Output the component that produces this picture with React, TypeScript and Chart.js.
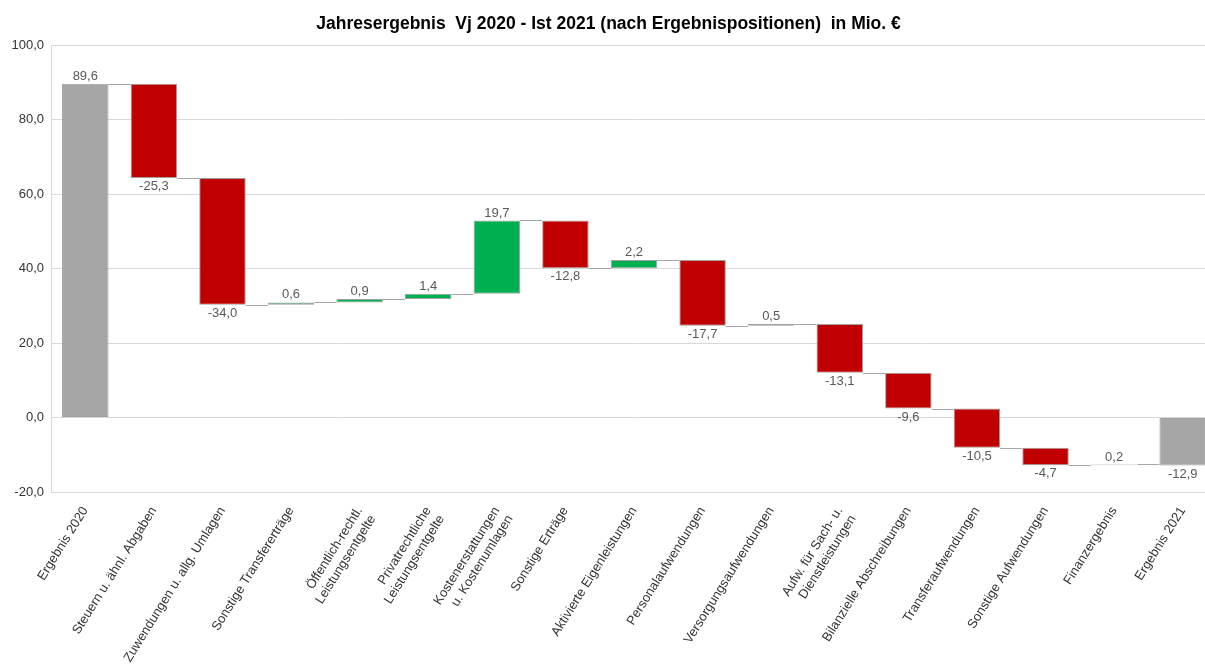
import React, { useEffect, useRef } from "react";
import { Chart, registerables } from "chart.js";

Chart.register(...registerables);

const FONT = "'Liberation Sans', Arial, Helvetica, sans-serif";

const categories: (string | string[])[] = [
  "Ergebnis 2020",
  "Steuern u. ähnl. Abgaben",
  "Zuwendungen u. allg. Umlagen",
  "Sonstige Transfererträge",
  ["Öffentlich-rechtl.", "Leistungsentgelte"],
  ["Privatrechtliche", "Leistungsentgelte"],
  ["Kostenerstattungen", "u. Kostenumlagen"],
  "Sonstige Erträge",
  "Aktivierte Eigenleistungen",
  "Personalaufwendungen",
  "Versorgungsaufwendungen",
  ["Aufw. für Sach- u.", "Dienstleistungen"],
  "Bilanzielle Abschreibungen",
  "Transferaufwendungen",
  "Sonstige Aufwendungen",
  "Finanzergebnis",
  "Ergebnis 2021",
];

const startValue = 89.6;
const deltas = [-25.3, -34.0, 0.6, 0.9, 1.4, 19.7, -12.8, 2.2, -17.7, 0.5, -13.1, -9.6, -10.5, -4.7, 0.2];
const endValue = -12.9;

const yMin = -20;
const yMax = 100;
const yStep = 20;

const TITLE = "Jahresergebnis  Vj 2020 - Ist 2021 (nach Ergebnispositionen)  in Mio. €";

const COLOR_TOTAL = "#a6a6a6";
const COLOR_NEG = "#c00000";
const COLOR_POS = "#00b050";

function fmt(v: number): string {
  return v.toFixed(1).replace(".", ",");
}

export default function App() {
  const ref = useRef<HTMLCanvasElement | null>(null);

  useEffect(() => {
    if (!ref.current) return;

    const ranges: [number, number][] = [];
    const levels: number[] = [];
    const values: number[] = [];
    const colors: string[] = [];

    ranges.push([0, startValue]);
    levels.push(startValue);
    values.push(startValue);
    colors.push(COLOR_TOTAL);
    let level = startValue;
    deltas.forEach((d) => {
      ranges.push([level, level + d]);
      level += d;
      levels.push(level);
      values.push(d);
      colors.push(d >= 0 ? COLOR_POS : COLOR_NEG);
    });
    ranges.push([0, endValue]);
    levels.push(endValue);
    values.push(endValue);
    colors.push(COLOR_TOTAL);

    const waterfallPlugin = {
      id: "waterfallExtras",
      afterDatasetsDraw(chart: any) {
        const ctx = chart.ctx;
        const meta = chart.getDatasetMeta(0);
        const yScale = chart.scales.y;
        ctx.save();
        // connectors
        ctx.strokeStyle = "#a6a6a6";
        ctx.lineWidth = 1;
        for (let i = 0; i < meta.data.length - 1; i++) {
          const a = meta.data[i] as any;
          const b = meta.data[i + 1] as any;
          const yy = Math.round(yScale.getPixelForValue(levels[i])) + 0.5;
          ctx.beginPath();
          ctx.moveTo(a.x + a.width / 2, yy);
          ctx.lineTo(b.x - b.width / 2, yy);
          ctx.stroke();
        }
        // value labels
        ctx.fillStyle = "#595959";
        ctx.font = `13px ${FONT}`;
        ctx.textAlign = "center";
        for (let i = 0; i < meta.data.length; i++) {
          const el = meta.data[i] as any;
          const top = Math.min(el.y, el.base);
          const bottom = Math.max(el.y, el.base);
          const v = values[i];
          if (v >= 0) {
            ctx.textBaseline = "bottom";
            ctx.fillText(fmt(v), el.x, top - 1);
          } else {
            ctx.textBaseline = "top";
            ctx.fillText(fmt(v), el.x, bottom + 2);
          }
        }
        ctx.restore();
      },
    };

    const chart = new Chart(ref.current, {
      type: "bar",
      data: {
        labels: categories,
        datasets: [
          {
            data: ranges as any,
            backgroundColor: colors,
            borderColor: "#a0a0a0",
            borderWidth: 1,
            borderSkipped: false,
            barPercentage: 0.678,
            categoryPercentage: 1,
          },
        ],
      },
      options: {
        responsive: false,
        animation: false,
        layout: { padding: 0 },
        plugins: {
          legend: { display: false },
          tooltip: { enabled: false },
          title: {
            display: true,
            text: TITLE,
            color: "#000000",
            font: { family: FONT, size: 17.5, weight: "bold" },
            padding: { top: 14, bottom: 10 },
          },
        },
        scales: {
          x: {
            grid: { display: false },
            border: { display: true, color: "#d9d9d9" },
            ticks: {
              autoSkip: false,
              minRotation: 58,
              maxRotation: 58,
              padding: 4,
              color: "#333333",
              font: { family: FONT, size: 13 },
            },
            afterFit: (scale: any) => {
              scale.height = 173;
            },
          },
          y: {
            min: yMin,
            max: yMax,
            grid: { color: "#d9d9d9", drawTicks: false },
            border: { display: true, color: "#d9d9d9" },
            ticks: {
              stepSize: yStep,
              padding: 7,
              color: "#333333",
              font: { family: FONT, size: 13 },
              callback: (v: any) => fmt(Number(v)),
            },
            afterFit: (scale: any) => {
              scale.width = 51;
            },
          },
        },
      },
      plugins: [waterfallPlugin],
    });

    return () => chart.destroy();
  }, []);

  return (
    <div
      style={{
        position: "fixed",
        left: 0,
        top: 0,
        width: "100vw",
        height: "100vh",
        overflow: "hidden",
        background: "#ffffff",
      }}
    >
      <canvas
        ref={ref}
        width={1217}
        height={665}
        style={{ display: "block", width: 1217, height: 665 }}
      />
    </div>
  );
}
